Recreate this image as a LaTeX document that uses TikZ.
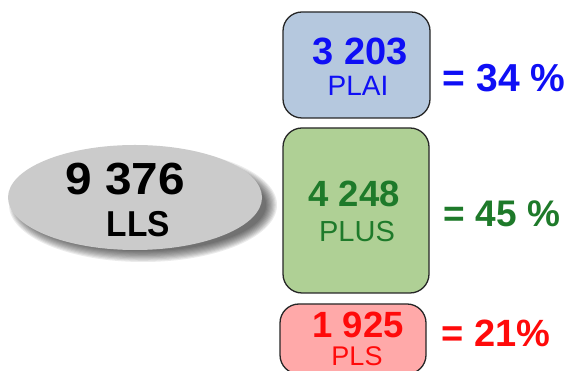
\documentclass[tikz,border=0pt]{standalone}
\usepackage{fontspec}
\setmainfont{Liberation Sans}
\usetikzlibrary{shapes.geometric}
\definecolor{cblue}{HTML}{0F0FF5}
\definecolor{cgreen}{HTML}{1E7A2A}
\definecolor{cred}{HTML}{FF0A0A}
\definecolor{fblue}{HTML}{B5C8DE}
\definecolor{fgreen}{HTML}{AFD095}
\definecolor{fred}{HTML}{FFA9A9}
\definecolor{fgray}{HTML}{CBCBCB}
\definecolor{edge}{HTML}{262626}
\tikzset{
  valbox/.style={draw=edge, line width=1.3pt, rounded corners=19pt, inner sep=0pt},
  txt/.style={anchor=base, inner sep=0pt},
}
\newcommand{\fs}[1]{\fontsize{#1}{#1}\selectfont}
\begin{document}
\begin{tikzpicture}[x=1pt,y=1pt]
\useasboundingbox (0,0) rectangle (567,371);
% shadow of ellipse
\foreach \i in {0,1,...,9}{
  \fill[black, opacity=0.08] (143,166) ellipse ({127+7-1.2*\i} and {52+5-1.2*\i});
}
\node[ellipse, fill=fgray, minimum width=254pt, minimum height=105pt, inner sep=0pt] (lls) at (135,173.5) {};
\node[txt] (n9376) at (125,176) {\fs{45}\bfseries\scalebox{1.06}[1]{9 376}};
\node[txt] (llst) at (138.5,134) {\fs{36}\bfseries\scalebox{0.93}[1]{LLS}};

% boxes
\node[valbox, fill=fblue, minimum width=147pt, minimum height=106pt] (plai) at (356.5,306) {};
\node[valbox, fill=fgreen, minimum width=146pt, minimum height=165pt] (plus) at (356,160.5) {};
\node[valbox, fill=fred, minimum width=146pt, minimum height=70pt] (pls) at (353,32) {};

\node[txt, text=cblue] (v1) at (360,306) {\fs{38}\bfseries 3 203};
\node[txt, text=cblue] (l1) at (358,275) {\fs{28}PLAI};
\node[txt, text=cgreen] (v2) at (354,164) {\fs{36.5}\bfseries 4 248};
\node[txt, text=cgreen] (l2) at (357,129) {\fs{29}PLUS};
\node[txt, text=cred] (v3) at (358,33) {\fs{36.5}\bfseries 1 925};
\node[txt, text=cred] (l3) at (357,5) {\fs{27}PLS};

\node[txt, text=cblue] (p1) at (504,279) {\fs{39}\bfseries = 34 \%};
\node[txt, text=cgreen] (p2) at (502,144) {\fs{37}\bfseries = 45 \%};
\node[txt, text=cred] (p3) at (496,24) {\fs{38}\bfseries = 21\%};
\end{tikzpicture}
\end{document}
